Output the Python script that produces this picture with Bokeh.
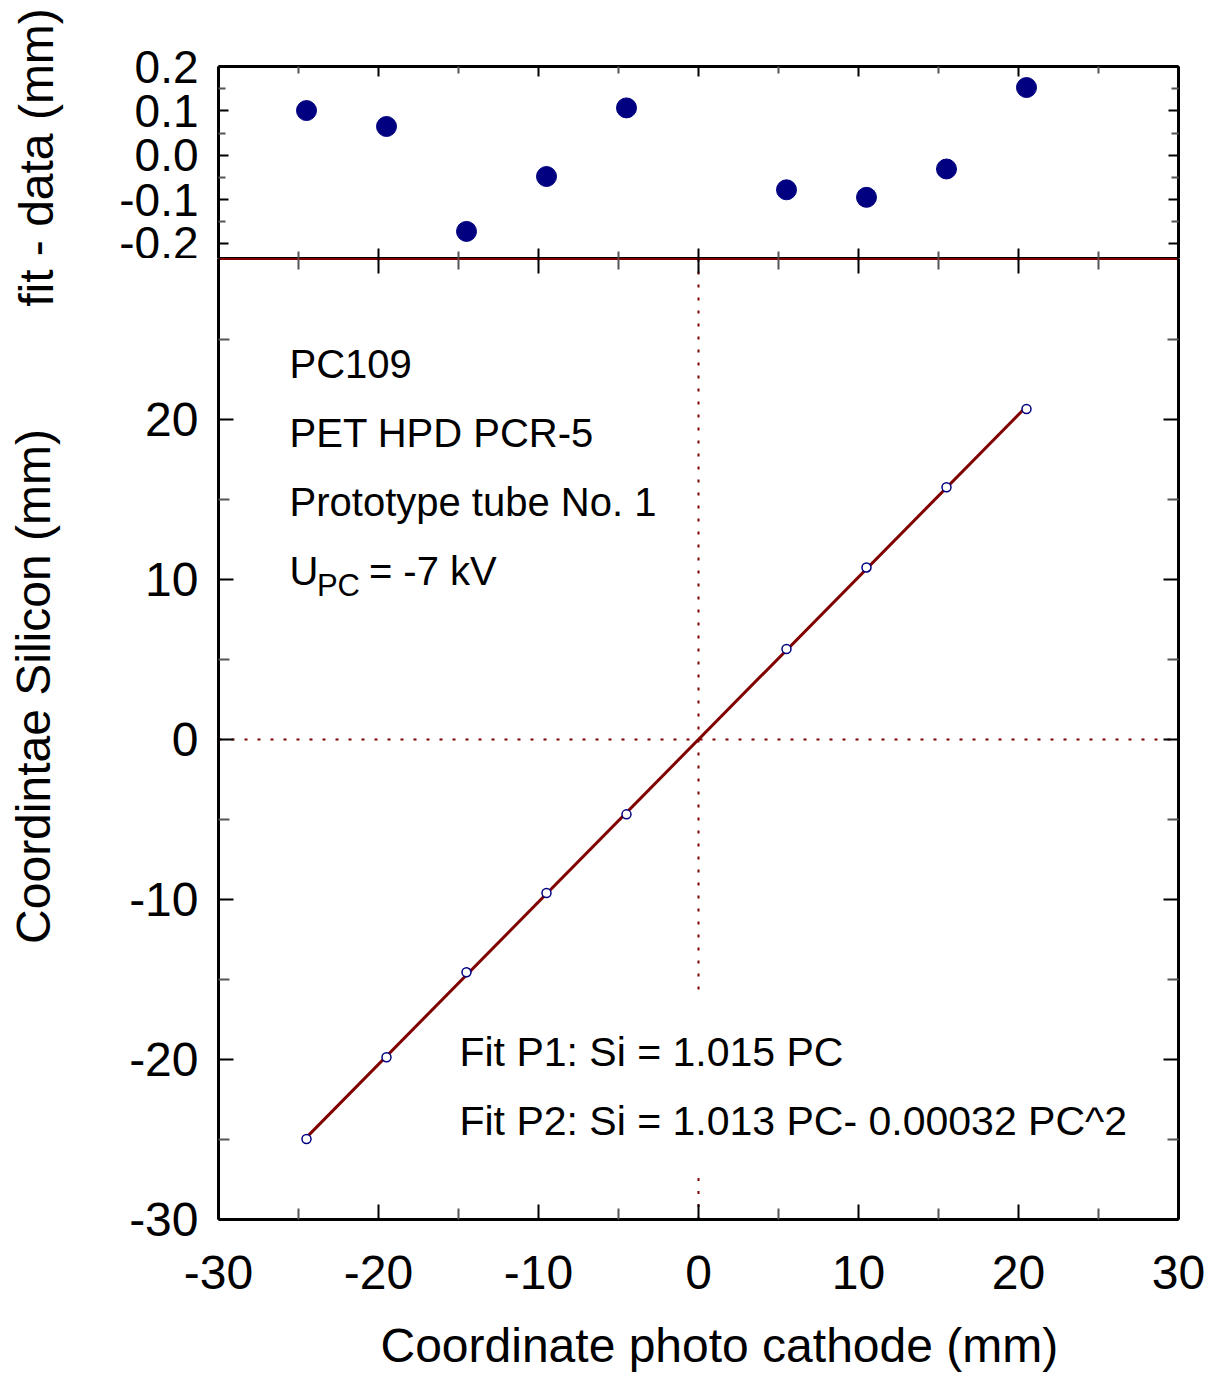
import math
from bokeh.plotting import figure
from bokeh.models import (LinearAxis, FixedTicker, Range1d, Title, Label,
                          PrintfTickFormatter)
from bokeh.layouts import column, row
from bokeh.core.properties import value
from bokeh.embed import file_html
from bokeh.resources import INLINE

# ---- data ----
pc_x = [-24.5, -19.5, -14.5, -9.5, -4.5, 5.5, 10.5, 15.5, 20.5]
si_y = [-24.97, -19.86, -14.55, -9.59, -4.68, 5.66, 10.75, 15.76, 20.65]
residual = [0.101, 0.065, -0.172, -0.048, 0.107, -0.078, -0.095, -0.031, 0.153]
fit_x = [-24.5, 20.5]
fit_y = [-24.87, 20.81]

x_major = [-30, -20, -10, 0, 10, 20, 30]
x_minor = [-25, -15, -5, 5, 15, 25]
y_major = [-30, -20, -10, 0, 10, 20]
y_minor = [-25, -15, -5, 5, 15, 25]
r_major = [-0.2, -0.1, 0.0, 0.1, 0.2]
r_minor = [-0.15, -0.05, 0.05, 0.15]

info_lines = ["PC109", "PET HPD PCR-5", "Prototype tube No. 1"]
fit_lines = ["Fit P1: Si = 1.015 PC", "Fit P2: Si = 1.013 PC- 0.00032 PC^2"]
top_ytitle = "fit - data (mm)"
main_ytitle = "Coordintae Silicon (mm)"
main_xtitle = "Coordinate photo cathode (mm)"

FONT = "Liberation Sans"
DARKRED = "#800000"
NAVY = "#000080"
LEFT_W = 80


def style_axis(ax, ticks, labels, major_in, minor_in, standoff=0, color="black",
               size="48px"):
    ax.axis_line_color = color
    ax.axis_line_width = 3
    ax.major_tick_in = major_in
    ax.major_tick_out = 0
    ax.minor_tick_in = minor_in
    ax.minor_tick_out = 0
    ax.major_tick_line_color = "black"
    ax.major_tick_line_width = 2
    ax.minor_tick_line_color = "#555555"
    ax.minor_tick_line_width = 2
    if labels:
        ax.major_label_text_font = FONT
        ax.major_label_text_font_size = size
        ax.major_label_standoff = standoff
        ax.major_label_text_color = "black"
    else:
        ax.major_label_overrides = {t: "" for t in ticks}
        ax.major_label_standoff = 0


# ---------------- left column holding the vertical titles ----------------
left = figure(width=LEFT_W, height=1381, x_range=Range1d(0, LEFT_W),
              y_range=Range1d(1381, 0), output_backend="svg",
              toolbar_location=None, min_border=0,
              x_axis_location=None, y_axis_location=None)
left.outline_line_color = None
left.grid.visible = False
left.text(x=[36], y=[157], text=[top_ytitle], angle=math.pi / 2,
          text_font=value(FONT), text_font_size="48px", text_color="black",
          text_align="center", text_baseline="middle")
left.text(x=[33], y=[686], text=[main_ytitle], angle=math.pi / 2,
          text_font=value(FONT), text_font_size="48px", text_color="black",
          text_align="center", text_baseline="middle")

# ---------------- top residual panel ----------------
top = figure(frame_width=960, frame_height=192,
             x_range=Range1d(-30, 30), y_range=Range1d(-0.2332, 0.2005),
             output_backend="svg", toolbar_location=None,
             min_border_left=218 - LEFT_W, min_border_right=30,
             min_border_top=66, min_border_bottom=0,
             x_axis_location=None, y_axis_location=None)
top.outline_line_color = None
top.grid.visible = False

tx_tick = FixedTicker(ticks=x_major, minor_ticks=x_minor)
ty_tick = FixedTicker(ticks=r_major, minor_ticks=r_minor)

ax = LinearAxis(ticker=ty_tick, formatter=PrintfTickFormatter(format="%.1f"))
style_axis(ax, r_major, True, 10, 7, standoff=20, size="46px")
top.add_layout(ax, "left")
ax = LinearAxis(ticker=ty_tick)
style_axis(ax, r_major, False, 10, 7)
top.add_layout(ax, "right")
ax = LinearAxis(ticker=tx_tick)
style_axis(ax, x_major, False, 10, 7)
top.add_layout(ax, "above")
ax = LinearAxis(ticker=tx_tick)
style_axis(ax, x_major, False, 10, 7)
top.add_layout(ax, "below")

top.scatter(pc_x, residual, size=20, fill_color=NAVY, line_color=NAVY)

# ---------------- main panel ----------------
main = figure(frame_width=960, frame_height=961,
              x_range=Range1d(-30, 30), y_range=Range1d(-30, 30.06),
              output_backend="svg", toolbar_location=None,
              min_border_left=218 - LEFT_W, min_border_right=30,
              min_border_top=0, min_border_bottom=172,
              x_axis_location=None, y_axis_location=None)
main.outline_line_color = None
main.grid.visible = False

mx_tick = FixedTicker(ticks=x_major, minor_ticks=x_minor)
my_tick = FixedTicker(ticks=y_major, minor_ticks=y_minor)

ax = LinearAxis(ticker=my_tick, formatter=PrintfTickFormatter(format="%d"))
style_axis(ax, y_major, True, 15, 11, standoff=20)
main.add_layout(ax, "left")
ax = LinearAxis(ticker=my_tick)
style_axis(ax, y_major, False, 15, 11)
main.add_layout(ax, "right")
ax = LinearAxis(ticker=mx_tick)
style_axis(ax, x_major, False, 15, 11, color=DARKRED)
main.add_layout(ax, "above")
ax = LinearAxis(ticker=mx_tick, formatter=PrintfTickFormatter(format="%d"))
style_axis(ax, x_major, True, 15, 11, standoff=36)
main.add_layout(ax, "below")

main.add_layout(Title(text=main_xtitle, text_font=FONT, text_font_size="48px",
                      text_font_style="normal", text_color="black",
                      align="left", offset=162, standoff=50), "below")

# cross-hair dotted lines
main.line([-30, 30], [0, 0], line_color=DARKRED, line_width=2, line_dash="3 10")
main.line([0, 0], [30.06, -16.1], line_color=DARKRED, line_width=2, line_dash="3 10")
main.line([0, 0], [-27.4, -30], line_color=DARKRED, line_width=2, line_dash="3 10")

# fit line and data
main.line(fit_x, fit_y, line_color=DARKRED, line_width=3)
main.scatter(pc_x, si_y, size=9, fill_color="white", line_color=NAVY, line_width=1.5)

# annotations
for i, t in enumerate(info_lines):
    main.add_layout(Label(x=-25.56, y=23.44 - 4.31 * i, text=t, text_font=FONT,
                          text_font_size="40px", text_color="black",
                          text_baseline="middle"))
main.add_layout(Label(x=-25.56, y=10.5, text="U", text_font=FONT,
                      text_font_size="40px", text_color="black", text_baseline="middle"))
main.add_layout(Label(x=-23.85, y=9.6, text="PC", text_font=FONT,
                      text_font_size="31px", text_color="black", text_baseline="middle"))
main.add_layout(Label(x=-20.6, y=10.5, text="= -7 kV", text_font=FONT,
                      text_font_size="40px", text_color="black", text_baseline="middle"))
for i, t in enumerate(fit_lines):
    main.add_layout(Label(x=-14.94, y=-19.56 - 4.31 * i, text=t, text_font=FONT,
                          text_font_size="41px", text_color="black",
                          text_baseline="middle"))

layout = row(left, column(top, main, spacing=0), spacing=0)
open("out.html", "w").write(file_html(layout, INLINE))
